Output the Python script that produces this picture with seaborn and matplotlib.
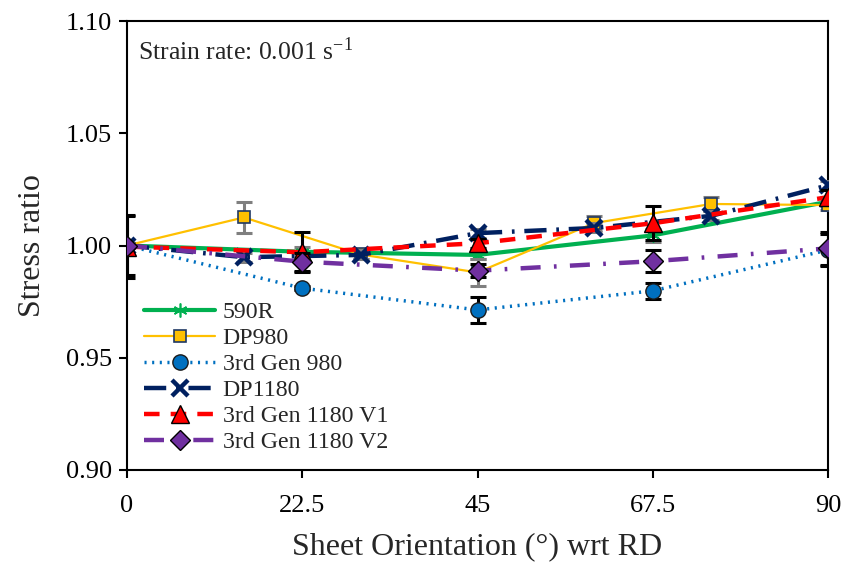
import matplotlib
matplotlib.use("Agg")
import matplotlib.pyplot as plt
import seaborn as sns
import pandas as pd
import numpy as np

# ---- data ----
x_fine = [0, 15, 30, 45, 60, 75, 90]
x_coarse = [0, 22.5, 45, 67.5, 90]

r590_x = x_coarse
r590_y = [1.000, 0.9972, 0.9958, 1.0045, 1.0195]
r590_e = [0.001, 0.002, 0.002, 0.003, 0.002]

dp980_x = x_fine
dp980_y = [1.000, 1.0125, 0.996, 0.988, 1.010, 1.0185, 1.018]
dp980_e = [0.001, 0.007, 0.002, 0.006, 0.003, 0.003, 0.002]

g980_x = x_coarse
g980_y = [1.000, 0.981, 0.9713, 0.9798, 0.998]
g980_e = [0.001, 0.001, 0.0057, 0.0035, 0.007]

dp1180_x = x_fine
dp1180_y = [1.000, 0.9948, 0.9958, 1.0055, 1.0078, 1.0132, 1.0268]
dp1180_e = [0.001, 0.002, 0.002, 0.002, 0.002, 0.002, 0.002]

v1_x = x_coarse
v1_y = [0.9995, 0.997, 1.001, 1.0099, 1.0215]
v1_e = [0.014, 0.009, 0.002, 0.0075, 0.003]

v2_x = x_coarse
v2_y = [1.000, 0.9928, 0.9888, 0.993, 0.9987]
v2_e = [0.013, 0.004, 0.003, 0.005, 0.0075]

labels = ["590R", "DP980", "3rd Gen 980", "DP1180", "3rd Gen 1180 V1", "3rd Gen 1180 V2"]
xticks = [0, 22.5, 45, 67.5, 90]
xticklabels = ["0", "22.5", "45", "67.5", "90"]
yticks = [0.90, 0.95, 1.00, 1.05, 1.10]

sns.set_style("white")
plt.rcParams['font.family'] = ['Liberation Serif', 'DejaVu Serif']
plt.rcParams['mathtext.fontset'] = 'stix'

fig = plt.figure(figsize=(8.51, 5.64), dpi=100)
ax = fig.add_axes([127/851, 94/564, (828-127)/851, (470-21)/564])

styles = [
    dict(color="#00B050", lw=3, ls="-", marker=(6, 2, 0), ms=10, mfc="#00B050", mec="#00B050", mew=1.2, ecol="#7f7f7f"),
    dict(color="#FFC000", lw=1.6, ls="-", marker="s", ms=9, mfc="#FFC000", mec="#1F3864", mew=1.2, ecol="#7f7f7f"),
    dict(color="#0070C0", lw=2.5, ls=(0, (0.6, 1.6)), marker="o", ms=11, mfc="#0070C0", mec="#1a1a1a", mew=1.0, ecol="black"),
    dict(color="#002060", lw=3.2, ls=(0, (5, 2.2, 0.6, 2.2)), marker="x", ms=11, mfc="#002060", mec="#002060", mew=3.2, ecol="#7f7f7f"),
    dict(color="#FF0000", lw=3.2, ls=(0, (3.5, 2.5)), marker="^", ms=13, mfc="#FF0000", mec="black", mew=1.0, ecol="black"),
    dict(color="#7030A0", lw=3.2, ls=(0, (4.5, 3, 0.6, 3)), marker="D", ms=10, mfc="#7030A0", mec="black", mew=1.0, ecol="black"),
]
series = [(r590_x, r590_y, r590_e), (dp980_x, dp980_y, dp980_e), (g980_x, g980_y, g980_e),
          (dp1180_x, dp1180_y, dp1180_e), (v1_x, v1_y, v1_e), (v2_x, v2_y, v2_e)]

for i, ((xs, ys, es), lab, st) in enumerate(zip(series, labels, styles)):
    df = pd.DataFrame({"x": xs, "y": ys})
    ax.errorbar(xs, ys, yerr=es, fmt="none", ecolor=st["ecol"], elinewidth=2.2,
                capsize=5.5, capthick=2.2, zorder=2 + 2 * i)
    sns.lineplot(data=df, x="x", y="y", ax=ax, color=st["color"], linewidth=st["lw"],
                 linestyle=st["ls"], marker=st["marker"], markersize=st["ms"],
                 markerfacecolor=st["mfc"], markeredgecolor=st["mec"], markeredgewidth=st["mew"],
                 label=lab, zorder=3 + 2 * i, estimator=None, sort=False)

ax.set_xlim(0, 90)
ax.set_ylim(0.90, 1.10)
ax.set_xticks(xticks)
ax.set_xticklabels(xticklabels)
ax.set_yticks(yticks)
ax.set_yticklabels([f"{v:.2f}" for v in yticks])
ax.tick_params(axis="both", direction="out", length=6, width=1.5, labelsize=19,
               bottom=True, left=True, colors="black")
ax.tick_params(axis="x", pad=12)
ax.tick_params(axis="y", pad=5)
for sp in ax.spines.values():
    sp.set_color("black")
    sp.set_linewidth(1.5)
ax.set_xlabel("Sheet Orientation (°) wrt RD", fontsize=23, labelpad=11)
ax.set_ylabel("Stress ratio", fontsize=23, labelpad=13)

ax.text(0.016, 0.965, "Strain rate: 0.001 s$^{\\mathregular{-1}}$", transform=ax.transAxes,
        fontsize=18.5, va="top", ha="left")

leg = ax.legend(loc="lower left", bbox_to_anchor=(0.0, 0.0), frameon=False, fontsize=17.2,
                handlelength=3.0, handletextpad=0.3, labelspacing=0.18, borderaxespad=0.3)

fig.savefig("out.png", dpi=100)
